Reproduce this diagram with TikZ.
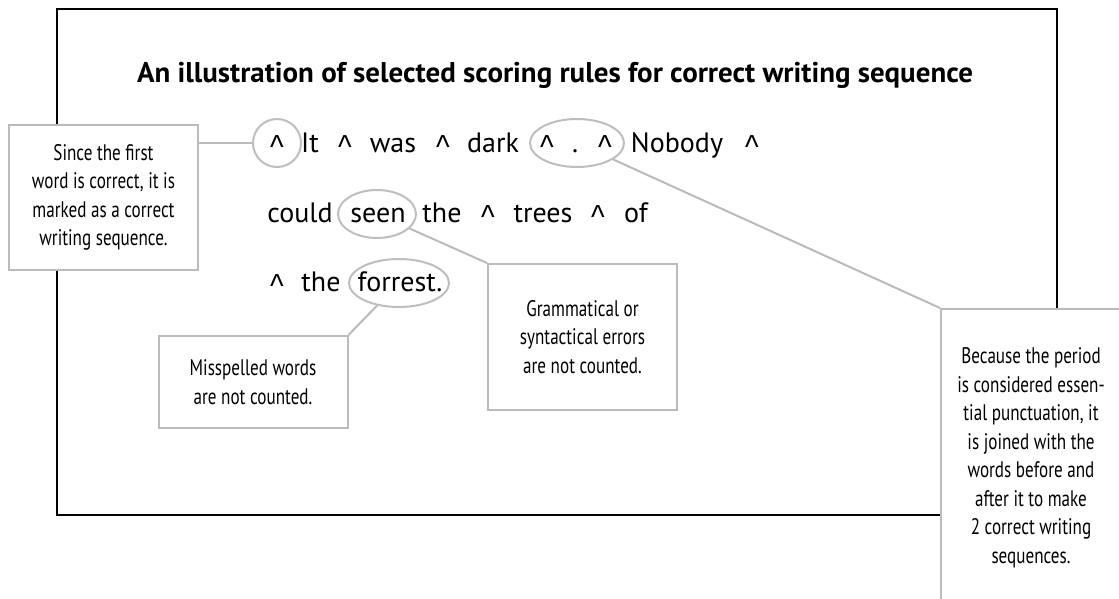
\documentclass[tikz,border=0pt]{standalone}
\usepackage{fontspec}
\setmainfont{PT Sans}
\newfontfamily\boxfont[FakeStretch=0.76]{PT Sans}
\newfontfamily\crtfont{Liberation Sans}
\usetikzlibrary{shapes.geometric}
\definecolor{boxgray}{RGB}{185,188,191}
\definecolor{ellgray}{RGB}{190,190,190}
\newcommand\crt{\raisebox{-6.8pt}{\crtfont\fontsize{29}{30}\selectfont\scalebox{1}[1.15]{\textasciicircum}}}
\begin{document}
\begin{tikzpicture}[x=1pt,y=-1pt,
  frame/.style={draw=black,line width=2.6pt},
  note/.style={draw=boxgray,line width=2pt,fill=white,inner sep=0pt,align=center,
    font=\boxfont\fontsize{22.5}{28.5}\selectfont},
  ring/.style={ellipse,draw=ellgray,line width=2pt,inner sep=0pt,minimum height=48pt},
  word/.style={anchor=base,inner sep=0pt,font=\fontsize{28}{32}\selectfont},
  link/.style={draw=boxgray,line width=2pt}]
\useasboundingbox (0,0) rectangle (1119,598);
\clip (0,0) rectangle (1119,598);
\fill[white] (0,0) rectangle (1119,598);
\draw[frame] (57,9) rectangle (1057,515);
\node[anchor=base,inner sep=0pt,font=\bfseries\fontsize{28.5}{32}\selectfont] (title) at (555,82)
  {\resizebox{836pt}{\height}{An illustration of selected scoring rules for correct writing sequence}};
% rings
\node[ring,minimum width=48pt] (c1) at (277,143) {};
\node[ring,minimum width=94pt] (c2) at (577,143) {};
\node[ring,minimum width=78pt] (c3) at (377,214) {};
\node[ring,minimum width=100pt] (c4) at (399,283) {};
% row 1
\node[word] (r1a) at (277,152) {\crt};
\node[word] (r1b) at (310,152) {It};
\node[word] (r1c) at (345,152) {\crt};
\node[word] (r1d) at (393,152) {was};
\node[word] (r1e) at (443,152) {\crt};
\node[word] (r1f) at (493,152) {dark};
\node[word] (r1g) at (547,152) {\crt};
\node[word] (r1h) at (575,152) {.};
\node[word] (r1i) at (605,152) {\crt};
\node[word] (r1j) at (677,152) {Nobody};
\node[word] (r1k) at (752,152) {\crt};
% row 2
\node[word] (r2a) at (300,222) {could};
\node[word] (r2b) at (378,222) {seen};
\node[word] (r2c) at (442,222) {the};
\node[word] (r2d) at (488,222) {\crt};
\node[word] (r2e) at (543,222) {trees};
\node[word] (r2f) at (598,222) {\crt};
\node[word] (r2g) at (636,222) {of};
% row 3
\node[word] (r3a) at (277,291) {\crt};
\node[word] (r3b) at (321,291) {the};
\node[word] (r3c) at (400,291) {forrest.};
% notes
\node[note,minimum width=189pt,minimum height=145pt] (lbox) at (103.5,197.5)
  {Since the first\\word is correct, it is\\marked as a correct\\writing sequence.};
\node[note,minimum width=189pt,minimum height=146pt] (gbox) at (582.5,337)
  {Grammatical or\\syntactical errors\\are not counted.};
\node[note,minimum width=189pt,minimum height=92pt] (mbox) at (253,382)
  {Misspelled words\\are not counted.};
\node[note,minimum width=180pt,minimum height=298pt] (rbox) at (1031,458)
  {Because the period\\is considered essen-\\tial punctuation, it\\is joined with the\\words before and\\after it to make\\2 correct writing\\sequences.};
% links
\draw[link] (lbox.east |- c1.west) -- (c1.west);
\draw[link] (c2) -- (rbox.north west);
\draw[link] (c3) -- (gbox.north west);
\draw[link] (c4) -- (mbox.north east);
\end{tikzpicture}
\end{document}
